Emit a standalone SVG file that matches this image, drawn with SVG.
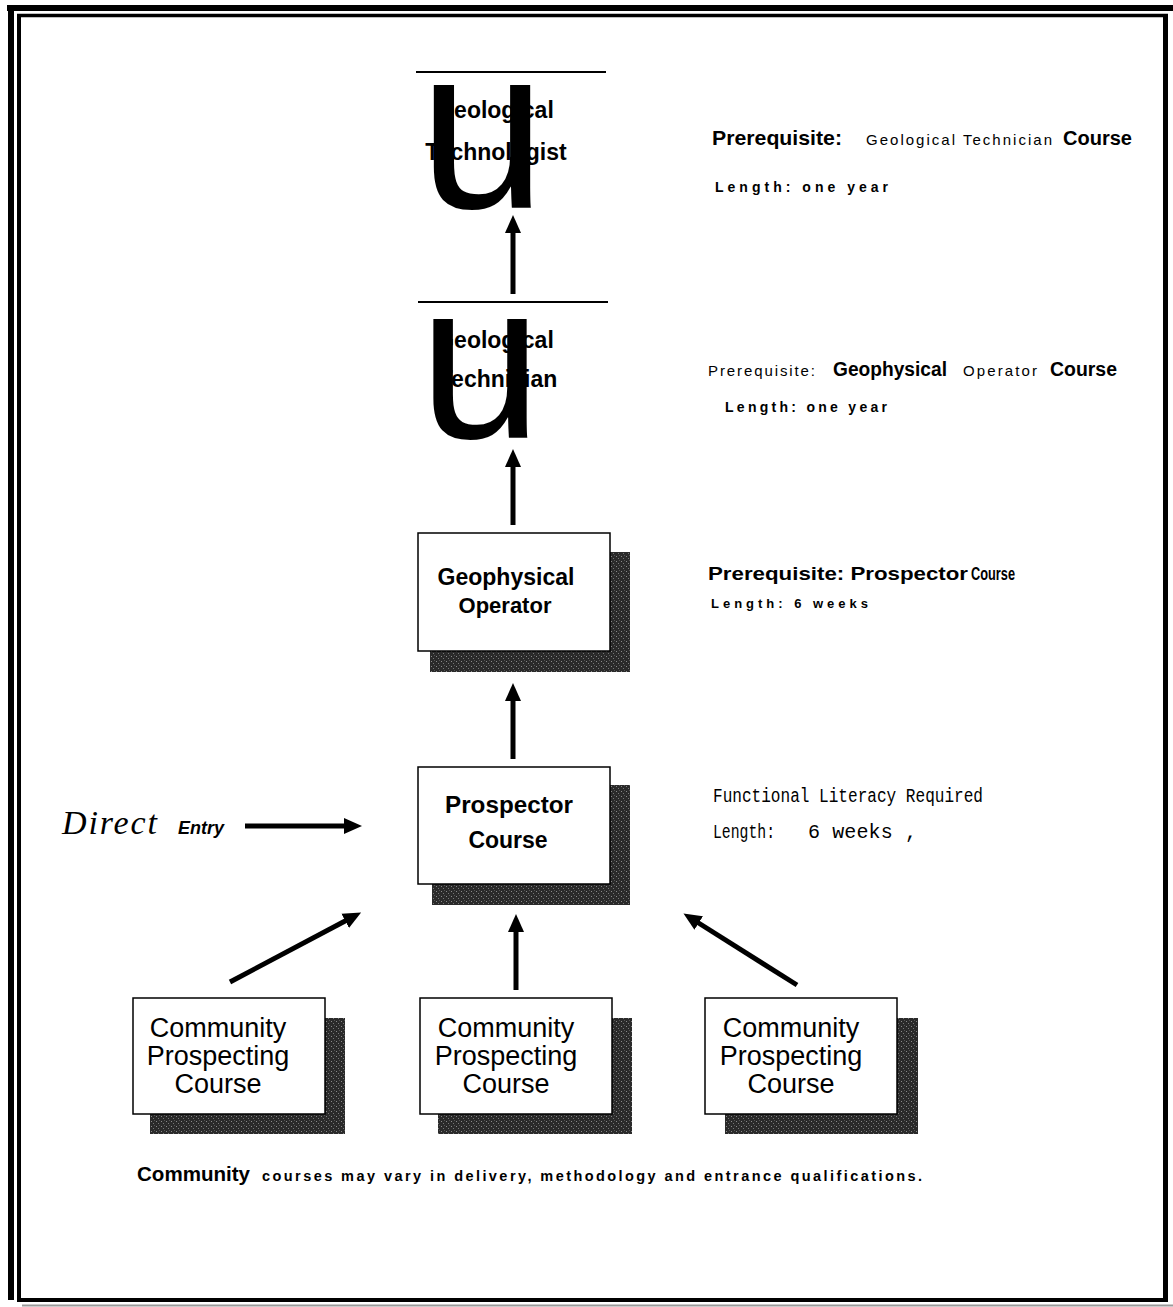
<svg xmlns="http://www.w3.org/2000/svg" width="1173" height="1307" viewBox="0 0 1173 1307">
<style>
.frame{stroke:#000;fill:none}
.box{fill:#fff;stroke:#000;stroke-width:1.5}
.shadow{fill:url(#stipple)}
.lbl{font-family:"Liberation Sans",Arial,sans-serif;font-weight:bold;fill:#000;text-anchor:middle}
.comm{font-family:"Liberation Sans",Arial,sans-serif;font-size:27px;fill:#000;text-anchor:middle}
.glyph{font-family:"Liberation Sans",Arial,sans-serif;fill:#000}
.side{font-family:"Liberation Sans",Arial,sans-serif;fill:#000}
.b{font-weight:bold}
.mono{font-family:"Liberation Mono","DejaVu Sans Mono",monospace;fill:#000}
.conn{stroke:#000;stroke-width:5;fill:none}
</style>
<defs>
<pattern id="stipple" width="5" height="5" patternUnits="userSpaceOnUse">
<rect width="5" height="5" fill="#2a2a2a"/>
<rect x="1" y="1" width="1" height="1" fill="#8a8a8a"/>
<rect x="3" y="3" width="1" height="1" fill="#777"/>
<rect x="4" y="0" width="1" height="1" fill="#555"/>
</pattern>
<marker id="ah" markerUnits="userSpaceOnUse" markerWidth="18" markerHeight="18" refX="2" refY="8" orient="auto" viewBox="0 0 18 16">
<path d="M0,0 L18,8 L0,16 Z" fill="#000"/>
</marker>
</defs>
<rect width="1173" height="1307" fill="#fff"/>
<g id="frame">
<line class="frame" x1="7" y1="8" x2="1173" y2="8" stroke-width="6"/>
<line class="frame" x1="11" y1="5" x2="11" y2="1300" stroke-width="6"/>
<line class="frame" x1="17" y1="15.5" x2="1168" y2="15.5" stroke-width="3.5"/>
<line class="frame" x1="19" y1="14" x2="19" y2="1302" stroke-width="4"/>
<line class="frame" x1="1165.5" y1="14" x2="1165.5" y2="1302" stroke-width="5"/>
<line class="frame" x1="17" y1="1300" x2="1168" y2="1300" stroke-width="4"/>
<line x1="22" y1="1305.5" x2="1173" y2="1305.5" stroke="#9a9a9a" stroke-width="2"/>
</g>
<g id="connectors">
<line class="conn" x1="513" y1="294" x2="513" y2="231" marker-end="url(#ah)"/>
<line class="conn" x1="513" y1="525" x2="513" y2="465" marker-end="url(#ah)"/>
<line class="conn" x1="513" y1="759" x2="513" y2="699" marker-end="url(#ah)"/>
<line class="conn" x1="245" y1="826" x2="346" y2="826" marker-end="url(#ah)" stroke-width="4"/>
<line class="conn" x1="230" y1="982" x2="347" y2="920" marker-end="url(#ah)"/>
<line class="conn" x1="516" y1="990" x2="516" y2="930" marker-end="url(#ah)"/>
<line class="conn" x1="797" y1="985" x2="697" y2="922" marker-end="url(#ah)"/>
</g>
<g id="node-technologist">
<line x1="416" y1="72" x2="606" y2="72" stroke="#000" stroke-width="2"/>
<text class="lbl" x="495" y="118" font-size="23">Geological</text>
<text class="lbl" x="496" y="160" font-size="23">Technologist</text>
<text class="glyph" x="419" y="208" font-size="232" textLength="127" lengthAdjust="spacingAndGlyphs">u</text>
</g>
<g id="node-technician">
<line x1="418" y1="302" x2="608" y2="302" stroke="#000" stroke-width="2"/>
<text class="lbl" x="495" y="348" font-size="23">Geological</text>
<text class="lbl" x="498" y="387" font-size="23">Technician</text>
<text class="glyph" x="419" y="438" font-size="224" textLength="123" lengthAdjust="spacingAndGlyphs">u</text>
</g>
<g id="node-geophysical">
<rect class="shadow" x="430" y="552" width="200" height="120"/>
<rect class="box" x="418" y="533" width="192" height="118"/>
<text class="lbl" x="506" y="585" font-size="23" textLength="137" lengthAdjust="spacingAndGlyphs">Geophysical</text>
<text class="lbl" x="505" y="613" font-size="22">Operator</text>
</g>
<g id="node-prospector">
<rect class="shadow" x="432" y="785" width="198" height="120"/>
<rect class="box" x="418" y="767" width="192" height="117"/>
<text class="lbl" x="509" y="813" font-size="23" textLength="128" lengthAdjust="spacingAndGlyphs">Prospector</text>
<text class="lbl" x="508" y="848" font-size="23">Course</text>
</g>
<g id="direct-entry">
<text x="62" y="834" font-family="Liberation Serif,serif" font-style="italic" font-size="34" textLength="95" lengthAdjust="spacing">Direct</text>
<text x="178" y="834" font-family="Liberation Sans,Arial,sans-serif" font-weight="bold" font-style="italic" font-size="18">Entry</text>
</g>
<g id="node-community-1">
<rect class="shadow" x="150" y="1018" width="195" height="116"/>
<rect class="box" x="133" y="998" width="192" height="116"/>
<text class="comm" x="218" y="1037">Community</text>
<text class="comm" x="218" y="1065">Prospecting</text>
<text class="comm" x="218" y="1093">Course</text>
</g>
<g id="node-community-2">
<rect class="shadow" x="438" y="1018" width="194" height="116"/>
<rect class="box" x="420" y="998" width="192" height="116"/>
<text class="comm" x="506" y="1037">Community</text>
<text class="comm" x="506" y="1065">Prospecting</text>
<text class="comm" x="506" y="1093">Course</text>
</g>
<g id="node-community-3">
<rect class="shadow" x="725" y="1018" width="193" height="116"/>
<rect class="box" x="705" y="998" width="192" height="116"/>
<text class="comm" x="791" y="1037">Community</text>
<text class="comm" x="791" y="1065">Prospecting</text>
<text class="comm" x="791" y="1093">Course</text>
</g>
<g id="notes">
<text class="side b" x="712" y="145" font-size="21" textLength="130" lengthAdjust="spacingAndGlyphs">Prerequisite:</text>
<text class="side" x="866" y="145" font-size="15" textLength="186" lengthAdjust="spacing">Geological Technician</text>
<text class="side b" x="1063" y="145" font-size="20" textLength="69" lengthAdjust="spacingAndGlyphs">Course</text>
<text class="side b" x="715" y="192" font-size="14" textLength="173" lengthAdjust="spacing">Length: one year</text>

<text class="side" x="708" y="376" font-size="15" textLength="107" lengthAdjust="spacing">Prerequisite:</text>
<text class="side b" x="833" y="376" font-size="20" textLength="114" lengthAdjust="spacingAndGlyphs">Geophysical</text>
<text class="side" x="963" y="376" font-size="15" textLength="74" lengthAdjust="spacing">Operator</text>
<text class="side b" x="1050" y="376" font-size="20" textLength="67" lengthAdjust="spacingAndGlyphs">Course</text>
<text class="side b" x="725" y="412" font-size="14" textLength="162" lengthAdjust="spacing">Length: one year</text>

<text class="side b" x="708" y="580" font-size="19" textLength="260" lengthAdjust="spacingAndGlyphs">Prerequisite: Prospector</text>
<text class="side b" x="971" y="580" font-size="18" textLength="44" lengthAdjust="spacingAndGlyphs">Course</text>
<text class="side b" x="711" y="608" font-size="13" textLength="157" lengthAdjust="spacing">Length: 6 weeks</text>

<text class="mono" x="713" y="802" font-size="20" textLength="270" lengthAdjust="spacingAndGlyphs">Functional Literacy Required</text>
<text class="mono" x="713" y="838" font-size="20" textLength="62" lengthAdjust="spacingAndGlyphs">Length:</text>
<text class="mono" x="808" y="838" font-size="20" textLength="109" lengthAdjust="spacing">6 weeks ,</text>

<text class="side b" x="137" y="1181" font-size="20" textLength="113" lengthAdjust="spacingAndGlyphs">Community</text>
<text class="side b" x="262" y="1181" font-size="14.5" textLength="660" lengthAdjust="spacing">courses may vary in delivery, methodology and entrance qualifications.</text>
</g>
</svg>
